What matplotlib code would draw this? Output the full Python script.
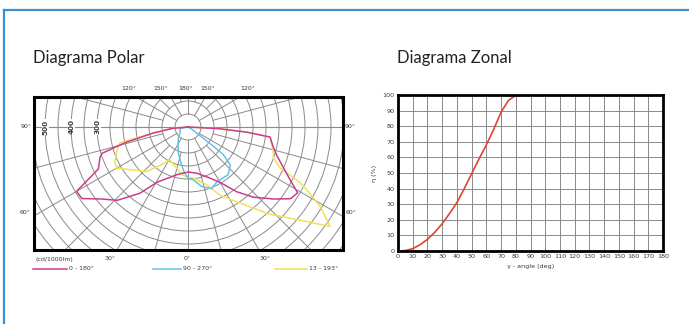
import matplotlib
matplotlib.use('Agg')
import matplotlib.pyplot as plt
import numpy as np
from matplotlib.lines import Line2D
from matplotlib.patches import Circle

# ---------------- data ----------------
# Polar diagram (cd/1000lm); gamma in degrees, 0 = straight down
mag_left_gamma = [0, 13, 29, 36, 44, 50, 56, 60, 63, 65, 71, 73, 76, 80, 85, 90]
mag_left_cd    = [173, 188, 242, 315, 392, 431, 492, 495, 417, 380, 358, 345, 250, 138, 60, 0]
mag_right_gamma = [0, 11, 23, 30, 37, 43, 50, 55, 59, 63, 72, 77, 83, 85, 87, 90]
mag_right_cd    = [173, 181, 213, 246, 312, 369, 431, 481, 492, 438, 360, 336, 318, 227, 115, 0]

cyan_left_gamma = [0, 5, 10, 20, 30, 40, 50, 60, 80, 90]
cyan_left_cd    = [196, 173, 146, 108, 77, 58, 42, 35, 31, 0]
cyan_right_gamma = [0, 6, 13, 21, 28, 40, 48, 52, 53, 55, 60, 90]
cyan_right_cd    = [196, 205, 235, 254, 238, 240, 219, 173, 115, 38, 19, 0]

yel_left_gamma = [0, 6, 15, 29, 36, 43, 52, 60, 64, 71, 77, 80, 85, 90]
yel_left_cd    = [194, 186, 165, 145, 182, 234, 268, 317, 313, 290, 269, 138, 60, 0]
yel_right_gamma = [0, 6, 18, 25, 33, 43, 51, 55, 59, 63, 64, 66, 70, 74, 83, 85, 87, 90]
yel_right_cd    = [194, 197, 234, 289, 343, 458, 574, 667, 593, 498, 465, 388, 350, 341, 318, 227, 115, 0]

ring_labels = [500, 400, 300]
legend_labels = ['0 - 180°', '90 - 270°', '13 - 193°']

# Zonal diagram
zonal_angle = [0, 5, 10, 15, 20, 25, 30, 35, 40, 45, 50, 55, 60, 65, 70, 75, 80, 85, 90, 180]
zonal_eta   = [0, 0.3, 1.5, 4, 7.5, 12, 17.5, 24, 31, 40, 49.5, 59, 68, 78, 89, 96.5, 99.8, 100, 100, 100]

# ---------------- layout helpers ----------------
W, H = 689, 324
fig = plt.figure(figsize=(W / 100, H / 100), dpi=100)
fig.patch.set_facecolor('white')

def rect(x0, y0, x1, y1):
    return [x0 / W, 1 - y1 / H, (x1 - x0) / W, (y1 - y0) / H]

def fx(x):
    return x / W

def fy(y):
    return 1 - y / H

TXT = '#3a3a3a'
SMALL = dict(fontsize=4.5, color=TXT, family='DejaVu Sans')

# card border
fig.add_artist(Line2D([fx(4), fx(689)], [fy(10), fy(10)], color='#3d8fd1', lw=1.6))
fig.add_artist(Line2D([fx(4), fx(4)], [fy(10), fy(324)], color='#3d8fd1', lw=1.6))

fig.text(fx(33), fy(58), 'Diagrama Polar', fontsize=12, family='Lato', color='#222', va='center')
fig.text(fx(397), fy(58), 'Diagrama Zonal', fontsize=12, family='Lato', color='#222', va='center')

# ---------------- polar diagram ----------------
k = 0.26  # px per cd
ax = fig.add_axes(rect(34, 97, 343, 250))
ax.set_xlim(-154 / k, 155 / k)
ax.set_ylim(-123 / k, 30 / k)
ax.set_xticks([])
ax.set_yticks([])
for s in ax.spines.values():
    s.set_linewidth(2.2)
    s.set_color('black')
    s.set_zorder(10)

grid_c = '#8a8a8a'
for r in range(50, 851, 50):
    ax.add_patch(Circle((0, 0), r, fill=False, ec=grid_c, lw=0.7, zorder=1))
for g in range(0, 360, 15):
    rad = np.radians(g)
    r0 = 50 if g % 30 == 0 else 100
    ax.plot([r0 * np.sin(rad), 900 * np.sin(rad)], [-r0 * np.cos(rad), -900 * np.cos(rad)],
            color=grid_c, lw=0.7, zorder=1)
ax.axhline(0, color=grid_c, lw=0.8, zorder=1)

def curve_xy(gl, il, gr, ir):
    gl = np.radians(np.array(gl, float)); il = np.array(il, float)
    gr = np.radians(np.array(gr, float)); ir = np.array(ir, float)
    xl = -il * np.sin(gl); yl = -il * np.cos(gl)
    xr = ir * np.sin(gr); yr = -ir * np.cos(gr)
    return np.concatenate([xl[::-1], xr]), np.concatenate([yl[::-1], yr])

c_mag, c_cyan, c_yel = '#cc3c8c', '#62c3e6', '#f2e05a'
x, y = curve_xy(yel_left_gamma, yel_left_cd, yel_right_gamma, yel_right_cd)
ax.plot(x, y, color=c_yel, lw=1.1, zorder=3)
x, y = curve_xy(cyan_left_gamma, cyan_left_cd, cyan_right_gamma, cyan_right_cd)
ax.plot(x, y, color=c_cyan, lw=1.1, zorder=4)
x, y = curve_xy(mag_left_gamma, mag_left_cd, mag_right_gamma, mag_right_cd)
ax.plot(x, y, color=c_mag, lw=1.1, zorder=5)

for v in ring_labels:
    ax.text(-(v + 48), 0, str(v), rotation=90, ha='center', va='center', zorder=6,
            bbox=dict(fc='white', ec='none', pad=0.4), fontsize=5.2, color=TXT,
            family='DejaVu Sans', fontweight='bold')

# angle labels around the box
for xx, t in [(129, '120°'), (161, '150°'), (186, '180°'), (208, '150°'), (248, '120°')]:
    fig.text(fx(xx), fy(88), t, ha='center', va='center', **SMALL)
for xx, yy, t in [(26, 127, '90°'), (350, 127, '90°'), (25, 213, '60°'), (351, 213, '60°')]:
    fig.text(fx(xx), fy(yy), t, ha='center', va='center', **SMALL)
for xx, t in [(110, '30°'), (187, '0°'), (265, '30°')]:
    fig.text(fx(xx), fy(259), t, ha='center', va='center', **SMALL)
fig.text(fx(35), fy(259), '(cd/1000lm)', ha='left', va='center', **SMALL)

# legend row
for (x0, x1, xt), c, lab in zip([(33, 67, 69), (153, 181, 183), (275, 307, 309)],
                                 [c_mag, c_cyan, c_yel], legend_labels):
    fig.add_artist(Line2D([fx(x0), fx(x1)], [fy(269), fy(269)], color=c, lw=1.1))
    fig.text(fx(xt), fy(269), lab, ha='left', va='center', **SMALL)

# ---------------- zonal diagram ----------------
az = fig.add_axes(rect(398, 95, 663, 251))
az.set_xlim(0, 180)
az.set_ylim(0, 100)
az.set_xticks(np.arange(0, 181, 10))
az.set_yticks(np.arange(0, 101, 10))
az.grid(True, color=grid_c, lw=0.7)
az.set_axisbelow(True)
az.tick_params(length=0, pad=2.5, labelsize=4.6, labelcolor=TXT)
for s in az.spines.values():
    s.set_linewidth(2.0)
    s.set_color('black')
    s.set_zorder(10)
az.plot(zonal_angle, zonal_eta, color='#e0462c', lw=1.2, zorder=3)
az.set_xlabel('γ - angle (deg)', fontsize=4.6, color=TXT, labelpad=3.5)
az.set_ylabel('η (%)', fontsize=4.6, color=TXT, labelpad=4)

fig.savefig('out.png', dpi=100)
